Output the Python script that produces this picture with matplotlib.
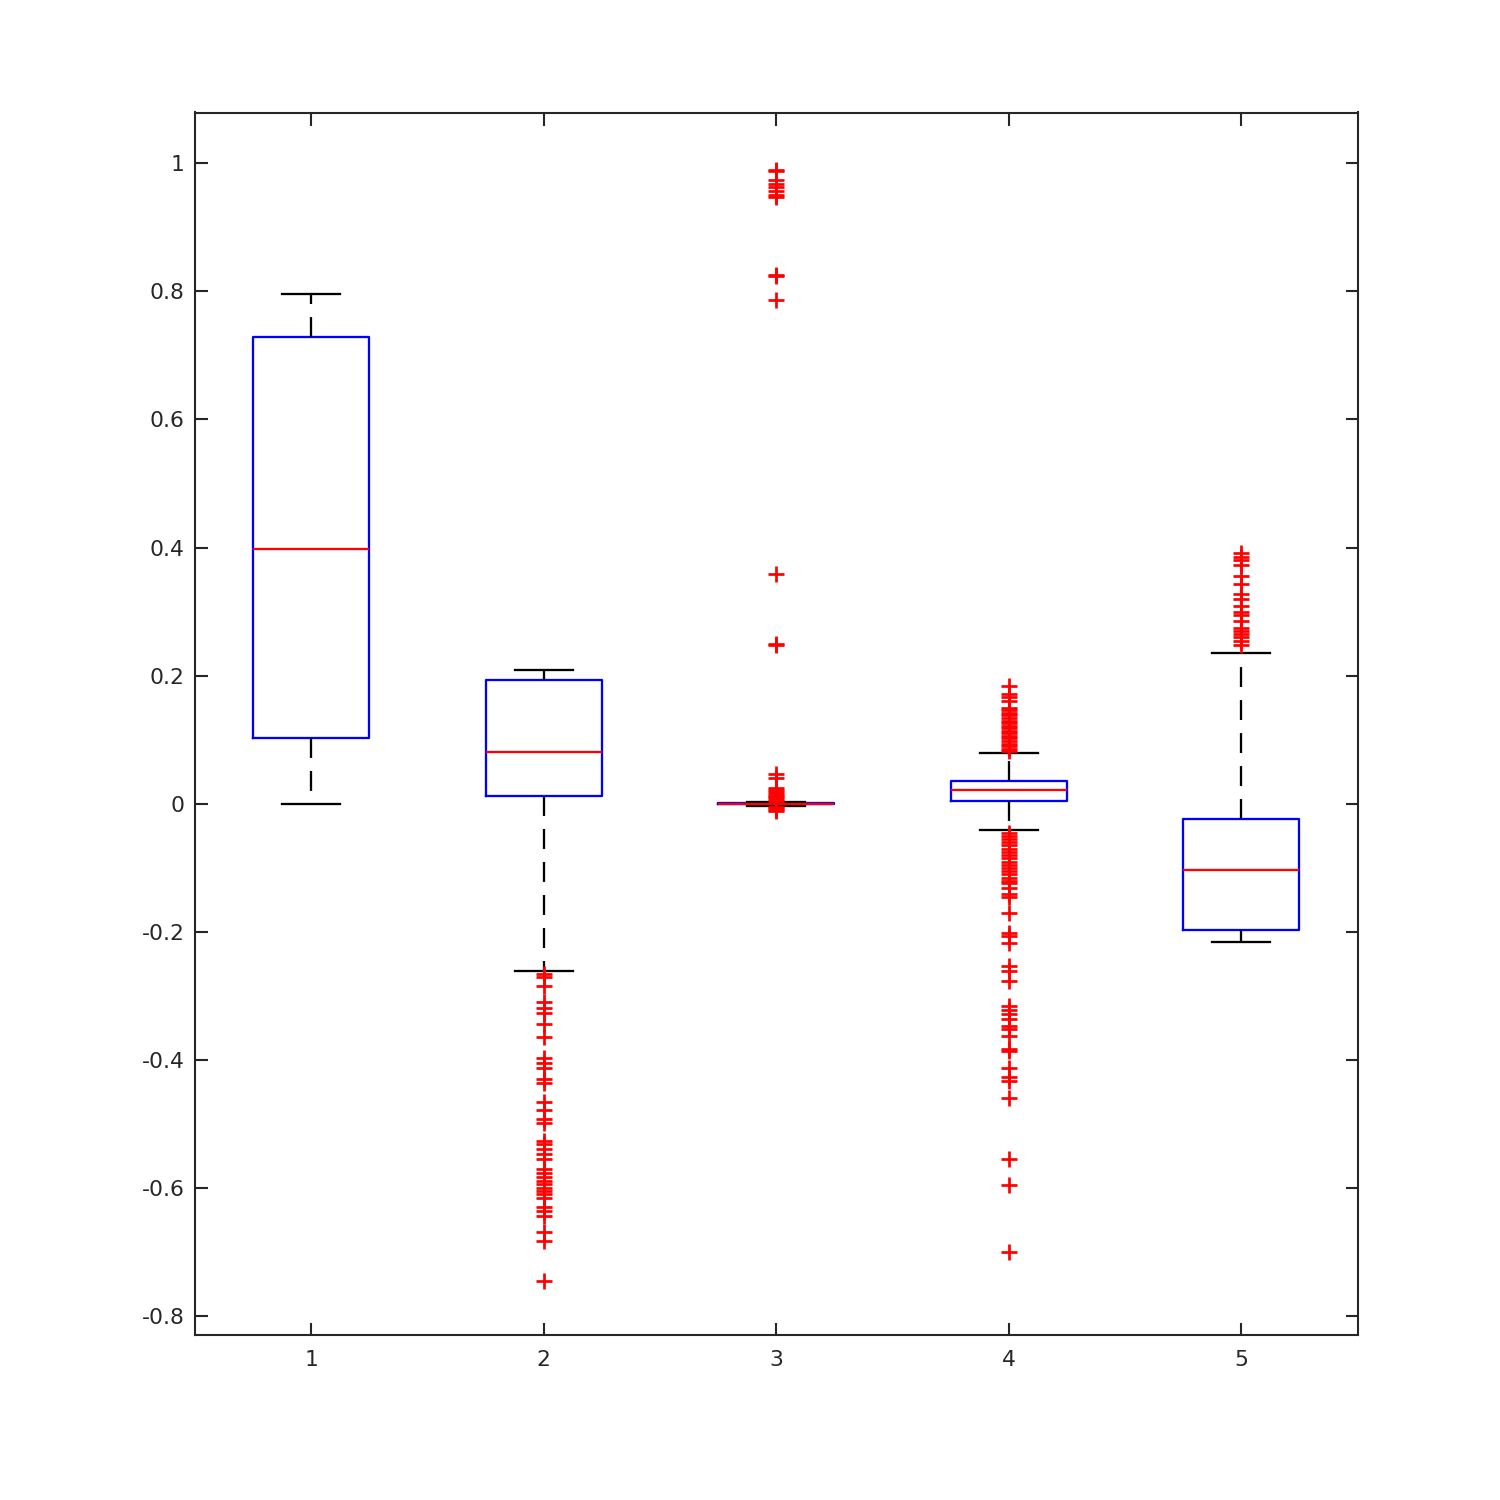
import matplotlib
matplotlib.use("Agg")
import matplotlib.pyplot as plt

# box statistics (one entry per group)
positions = [1, 2, 3, 4, 5]
medians = [0.398, 0.081, 0.0, 0.022, -0.103]
q1s = [0.103, 0.0125, -0.001, 0.005, -0.197]
q3s = [0.729, 0.194, 0.001, 0.036, -0.023]
whis_lo = [0.0, -0.261, -0.003, -0.041, -0.215]
whis_hi = [0.795, 0.209, 0.003, 0.080, 0.235]

fliers_1 = []
fliers_2 = [
    -0.265, -0.271, -0.284, -0.310, -0.318, -0.326, -0.343, -0.364, -0.396,
    -0.404, -0.412, -0.430, -0.435, -0.466, -0.478, -0.492, -0.498, -0.526,
    -0.531, -0.539, -0.547, -0.555, -0.570, -0.576, -0.583, -0.589, -0.594,
    -0.599, -0.604, -0.609, -0.615, -0.630, -0.635, -0.643, -0.669, -0.682,
    -0.745,
]
fliers_3 = [
    0.989, 0.987, 0.974, 0.967, 0.962, 0.956, 0.951, 0.947, 0.826, 0.824,
    0.787, 0.358, 0.250, 0.248, 0.046, 0.041, 0.025, 0.022, 0.019, 0.016,
    0.013, 0.010, 0.007, 0.005, -0.005, -0.007, -0.009, -0.011,
]
fliers_4 = [
    0.184, 0.171, 0.166, 0.161, 0.150, 0.146, 0.142, 0.138, 0.134, 0.130,
    0.126, 0.122, 0.118, 0.114, 0.110, 0.106, 0.102, 0.098, 0.094, 0.090,
    0.086, 0.083,
    -0.045, -0.050, -0.055, -0.060, -0.065, -0.070, -0.075, -0.080, -0.085,
    -0.090, -0.095, -0.100, -0.105, -0.110, -0.115, -0.120, -0.123, -0.131,
    -0.141, -0.145, -0.171, -0.201, -0.206, -0.217, -0.253, -0.261, -0.277,
    -0.315, -0.321, -0.328, -0.336, -0.347, -0.352, -0.362, -0.382, -0.386,
    -0.412, -0.427, -0.432, -0.459, -0.555, -0.595, -0.699,
]
fliers_5 = [
    0.391, 0.386, 0.380, 0.372, 0.356, 0.343, 0.327, 0.320, 0.309, 0.299,
    0.294, 0.286, 0.275, 0.270, 0.265, 0.260, 0.254, 0.248,
]
fliers = [fliers_1, fliers_2, fliers_3, fliers_4, fliers_5]

yticks = [-0.8, -0.6, -0.4, -0.2, 0, 0.2, 0.4, 0.6, 0.8, 1]

stats = [
    dict(med=m, q1=a, q3=b, whislo=lo, whishi=hi, fliers=f)
    for m, a, b, lo, hi, f in zip(medians, q1s, q3s, whis_lo, whis_hi, fliers)
]

fig = plt.figure(figsize=(10, 10), dpi=150)
ax = fig.add_axes([0.13, 0.11, 0.775, 0.815])

ax.bxp(
    stats,
    positions=positions,
    widths=0.5,
    capwidths=0.25,
    boxprops=dict(color="#0000ff", linewidth=1.1),
    medianprops=dict(color="#ff0000", linewidth=1.1),
    whiskerprops=dict(color="black", linewidth=1.1, linestyle=(0, (8.7, 5.7))),
    capprops=dict(color="black", linewidth=1.1),
    flierprops=dict(marker="+", markeredgecolor="#ff0000", markersize=7.5,
                    markeredgewidth=1.3, linestyle="none"),
)

ax.set_xlim(0.5, 5.5)
ax.set_ylim(-0.829, 1.079)
ax.set_xticks(positions)
ax.set_xticklabels([str(p) for p in positions])
ax.set_yticks(yticks)
ax.set_yticklabels([f"{t:g}" for t in yticks])

for s in ax.spines.values():
    s.set_color("#262626")
    s.set_linewidth(1.0)
ax.tick_params(direction="in", length=6, width=1.0, color="#262626",
               labelcolor="#262626", labelsize=10.5, top=True, right=True)
ax.tick_params(axis="y", pad=5)
ax.tick_params(axis="x", pad=7)

fig.savefig("out.png", dpi=150)
